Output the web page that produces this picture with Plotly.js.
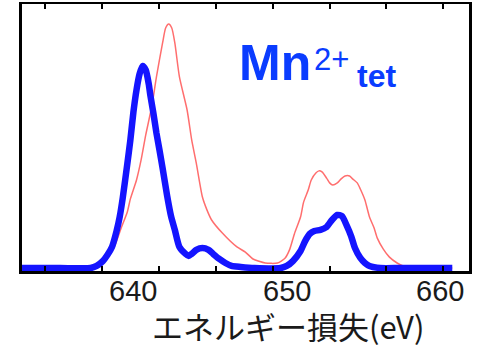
<!DOCTYPE html>
<html>
<head>
<meta charset="utf-8">
<script src="https://cdn.plot.ly/plotly-3.0.1.min.js"></script>
<style>
  html, body { margin: 0; padding: 0; background: #fff; }
  #chart { width: 481px; height: 347px; }
</style>
</head>
<body>
<div id="chart"></div>
<script>
// Mn L-edge energy-loss spectra (eV vs. normalised intensity)
const energyBlue = [632.7, 635.2, 637.2, 637.6, 638.0, 638.3, 638.6, 638.9, 639.1, 639.3,
  639.6, 639.8, 640.0, 640.2, 640.4, 640.6, 640.8, 641.0, 641.1, 641.3,
  641.5, 641.7, 641.9, 642.2, 642.45, 642.7, 643.0, 643.4, 643.6, 643.8,
  644.1, 644.5, 644.9, 645.2, 645.6, 646.0, 646.4, 647.0, 647.9, 649.6,
  650.0, 650.4, 650.9, 651.2, 651.5, 651.8, 652.2, 652.6, 652.95, 653.3,
  653.6, 653.9, 654.2, 654.45, 654.8, 655.1, 655.4, 656.1, 657.4, 660.8];
const intensityBlue = [0.011, 0.011, 0.011, 0.019, 0.037, 0.060, 0.090, 0.150, 0.202, 0.273,
  0.401, 0.491, 0.596, 0.678, 0.738, 0.768, 0.753, 0.700, 0.659, 0.592,
  0.517, 0.453, 0.386, 0.281, 0.206, 0.154, 0.090, 0.064, 0.056, 0.064,
  0.079, 0.086, 0.079, 0.064, 0.045, 0.030, 0.019, 0.015, 0.011, 0.011,
  0.019, 0.037, 0.075, 0.112, 0.139, 0.150, 0.154, 0.165, 0.191, 0.210,
  0.206, 0.172, 0.131, 0.086, 0.049, 0.030, 0.019, 0.011, 0.011, 0.011];

const energyRed = [632.7, 637.2, 637.8, 638.3, 638.8, 639.2, 639.6, 639.8, 640.2, 640.5,
  640.8, 641.2, 641.5, 641.9, 642.1, 642.3, 642.5, 642.7, 643.0, 643.5,
  643.8, 644.1, 644.5, 644.8, 645.1, 645.8, 646.75, 647.3, 647.8, 648.6,
  649.4, 649.9, 650.2, 650.5, 650.9, 651.1, 651.4, 651.6, 651.9, 652.1,
  652.3, 652.6, 652.8, 653.0, 653.3, 653.55, 653.8, 654.1, 654.3, 654.6,
  654.8, 655.1, 655.4, 655.7, 655.9, 656.3, 656.7, 657.2, 657.6, 658.4, 660.8];
const intensityRed = [0.011, 0.011, 0.019, 0.049, 0.097, 0.161, 0.221, 0.270, 0.341, 0.416,
  0.509, 0.618, 0.727, 0.854, 0.910, 0.925, 0.910, 0.854, 0.727, 0.603,
  0.491, 0.404, 0.277, 0.228, 0.191, 0.142, 0.090, 0.071, 0.045, 0.030,
  0.030, 0.049, 0.082, 0.139, 0.202, 0.258, 0.303, 0.341, 0.367, 0.375,
  0.371, 0.348, 0.330, 0.322, 0.330, 0.345, 0.356, 0.356, 0.345, 0.330,
  0.307, 0.266, 0.202, 0.161, 0.124, 0.082, 0.052, 0.030, 0.019, 0.011, 0.011];

const energyTicks = [640, 650, 660];
const energyTickText = ['640', '650', '660'];

const xRange = [632.73, 661.89];
const labelBlue = 'rgb(10,60,255)';
const sans = 'Liberation Sans, Arial, sans-serif';

// evenly spaced tick-mark positions along the frame
const markStart = 634.23, markStep = 3.712;
const markPositions = [];
for (let v = markStart; v < xRange[1]; v += markStep) markPositions.push(v);

const traces = [
  {
    x: energyRed, y: intensityRed, type: 'scatter', mode: 'lines',
    line: { color: 'rgb(255,110,110)', width: 1.5, shape: 'spline', smoothing: 0.6 },
    hoverinfo: 'skip'
  },
  {
    x: energyBlue, y: intensityBlue, type: 'scatter', mode: 'lines',
    line: { color: 'rgb(20,20,255)', width: 6.5, shape: 'spline', smoothing: 0.6 },
    hoverinfo: 'skip'
  }
];

// energy labels placed at their values on the x scale, just below the frame
const energyLabels = energyTicks.map((e, i) => ({
  xref: 'x', yref: 'paper', x: e, y: -0.075, xanchor: 'center', yanchor: 'middle',
  showarrow: false, text: energyTickText[i], borderpad: 0,
  font: { size: 29, family: sans, color: '#1a1a1a' }
}));

const layout = {
  width: 481, height: 347,
  margin: { l: 22, r: 12, t: 4, b: 76 },
  paper_bgcolor: '#fff', plot_bgcolor: '#fff',
  showlegend: false,
  font: { family: sans, color: '#1a1a1a' },
  // frame with small inward tick marks on the bottom and top edges
  xaxis: {
    range: xRange, tickmode: 'array', tickvals: markPositions,
    ticktext: markPositions.map(() => ''),
    ticks: 'inside', ticklen: 5, tickwidth: 2, tickcolor: '#000',
    showticklabels: true, showgrid: false, zeroline: false,
    showline: true, linecolor: '#000', linewidth: 2.5, mirror: 'ticks'
  },
  yaxis: {
    range: [0, 1], showticklabels: false, ticks: '', showgrid: false, zeroline: false,
    showline: true, linecolor: '#000', linewidth: 3, mirror: true
  },
  annotations: energyLabels.concat([
    {
      xref: 'paper', yref: 'paper', x: 0.481, y: 0.779, xanchor: 'left', yanchor: 'middle',
      showarrow: false, text: '<b>Mn</b>',
      font: { size: 50, color: labelBlue, family: sans }
    },
    {
      xref: 'paper', yref: 'paper', x: 0.648, y: 0.794, xanchor: 'left', yanchor: 'middle',
      showarrow: false, text: '2+',
      font: { size: 31, color: labelBlue, family: sans }
    },
    {
      xref: 'paper', yref: 'paper', x: 0.745, y: 0.729, xanchor: 'left', yanchor: 'middle',
      showarrow: false, text: '<b>tet</b>',
      font: { size: 32, color: labelBlue, family: sans }
    },
    {
      xref: 'paper', yref: 'paper', x: 0.595, y: -0.204, xanchor: 'center', yanchor: 'middle',
      showarrow: false, text: 'エネルギー損失(eV)', borderpad: 0,
      font: { size: 31, color: '#1a1a1a', family: 'Noto Sans CJK JP, sans-serif' }
    }
  ])
};

Plotly.newPlot('chart', traces, layout, { displayModeBar: false, staticPlot: true });
</script>
</body>
</html>
